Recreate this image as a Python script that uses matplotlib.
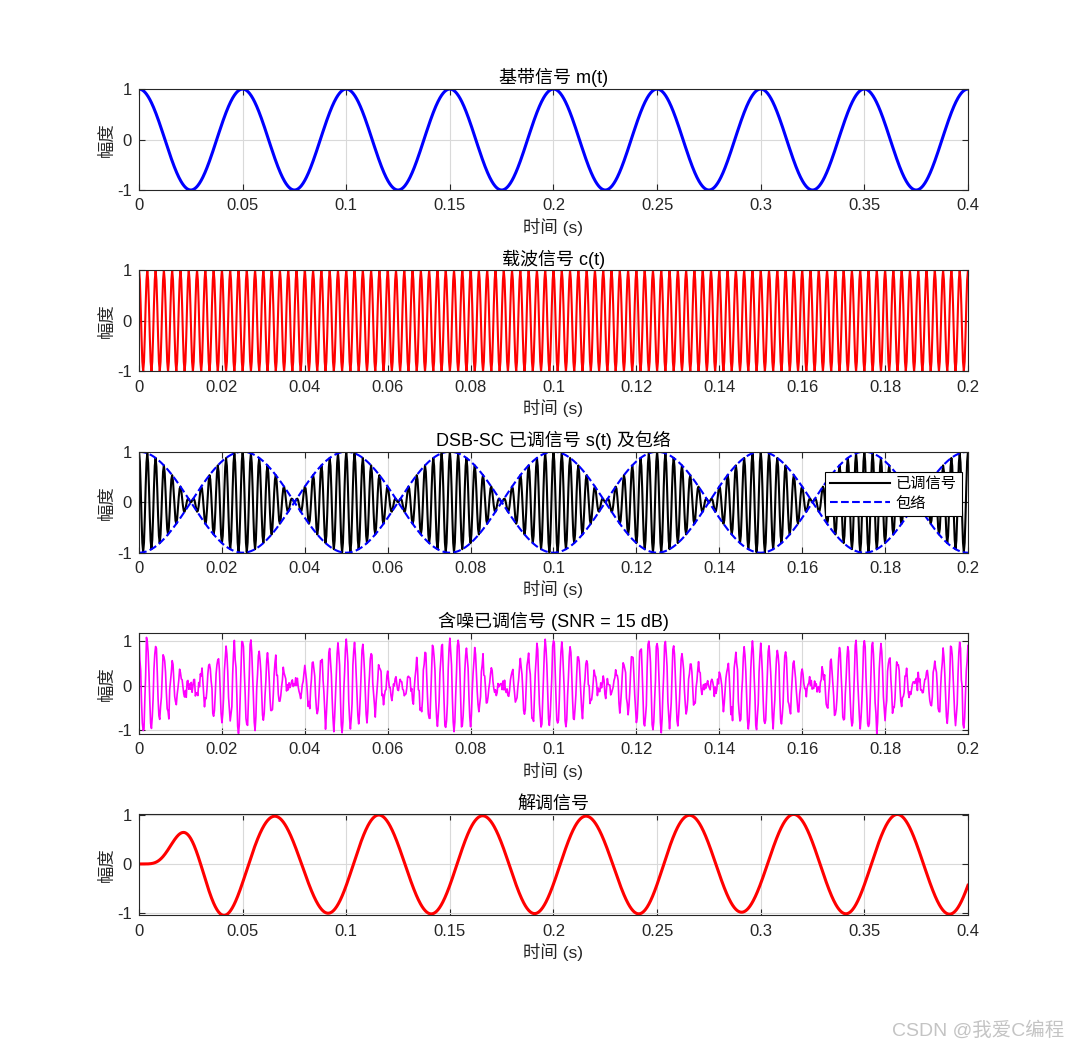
import numpy as np
import matplotlib
matplotlib.use('Agg')
import matplotlib.pyplot as plt
from matplotlib.ticker import FuncFormatter

plt.rcParams['font.family'] = ['Liberation Sans', 'Noto Sans CJK SC']
plt.rcParams['axes.unicode_minus'] = False

# 参数
fs = 5000          # 采样率 (Hz)
t_end = 0.4        # 时长 (s)
fm = 20            # 基带频率 (Hz)
fc = 500           # 载波频率 (Hz)
snr_db = 15        # 信噪比 (dB)
lp_order = 6       # Butterworth 阶数
lp_cut = 40        # 低通截止 (Hz)

titles = ['基带信号 m(t)', '载波信号 c(t)', 'DSB-SC 已调信号 s(t) 及包络',
          '含噪已调信号 (SNR = 15 dB)', '解调信号']
xlims = [0.4, 0.2, 0.2, 0.2, 0.4]
xsteps = [0.05, 0.02, 0.02, 0.02, 0.05]
legend_labels = ['已调信号', '包络']

GRAY = '#262626'


def butter_sos(order, fcut, fs):
    """双线性变换得到的 Butterworth 低通二阶节"""
    w = 2 * fs * np.tan(np.pi * fcut / fs)
    sos = []
    for k in range(order // 2):
        p = w * np.exp(1j * np.pi * (2 * k + order + 1) / (2 * order))
        z = (2 * fs + p) / (2 * fs - p)
        a = [1.0, -2 * z.real, abs(z) ** 2]
        g = sum(a) / 4
        sos.append(([g, 2 * g, g], a))
    return sos


def sos_filter(sos, x):
    y = np.array(x, dtype=float)
    for b, a in sos:
        out = np.zeros_like(y)
        x1 = x2 = y1 = y2 = 0.0
        for n, xn in enumerate(y):
            yn = b[0] * xn + b[1] * x1 + b[2] * x2 - a[1] * y1 - a[2] * y2
            x2, x1 = x1, xn
            y2, y1 = y1, yn
            out[n] = yn
        y = out
    return y


def make_signals():
    t = np.arange(0, t_end + 1 / fs, 1 / fs)
    m = np.cos(2 * np.pi * fm * t)
    c = np.cos(2 * np.pi * fc * t)
    s = m * c
    rng = np.random.default_rng(3)
    p_noise = np.mean(s ** 2) / 10 ** (snr_db / 10)
    r = s + np.sqrt(p_noise) * rng.standard_normal(len(t))
    d = sos_filter(butter_sos(lp_order, lp_cut, fs), 2 * r * c)
    return t, m, c, s, r, d


def style_axes(ax, i):
    ax.set_xlim(0, xlims[i])
    ax.set_xticks(np.round(np.arange(0, xlims[i] + 1e-9, xsteps[i]), 3))
    ax.xaxis.set_major_formatter(FuncFormatter(lambda v, p: '%g' % v))
    ax.set_yticks([-1, 0, 1])
    ax.grid(True, color='#d9d9d9', linewidth=0.8)
    ax.set_axisbelow(True)
    ax.tick_params(direction='in', length=4, colors=GRAY, labelsize=12,
                   top=True, right=True)
    ax.tick_params(axis='x', pad=6)
    ax.tick_params(axis='y', pad=5)
    for sp in ax.spines.values():
        sp.set_color(GRAY)
        sp.set_linewidth(0.8)
    ax.set_title(titles[i], fontsize=13, color='black', pad=4)
    ax.set_xlabel('时间 (s)', fontsize=12.5, color=GRAY, labelpad=3)
    ax.set_ylabel('幅度', fontsize=12.5, color=GRAY, labelpad=2)


t, m, c, s, r, d = make_signals()

fig = plt.figure(figsize=(10.71, 10.5), dpi=100)
left, width, height = 0.1298, 0.774, 0.0962
bottoms = [0.819 - i * 0.1727 for i in range(5)]
axes = [fig.add_axes([left, b, width, height]) for b in bottoms]

axes[0].plot(t, m, color='#0000ff', linewidth=2.2)
axes[0].set_ylim(-1, 1)

axes[1].plot(t, c, color='#ff0000', linewidth=1.5)
axes[1].set_ylim(-1, 1)

axes[2].plot(t, s, color='black', linewidth=1.5, label=legend_labels[0])
axes[2].plot(t, m, '--', color='#0000ff', linewidth=1.5, label=legend_labels[1])
axes[2].plot(t, -m, '--', color='#0000ff', linewidth=1.5)
axes[2].set_ylim(-1, 1)

axes[3].plot(t, r, color='#ff00ff', linewidth=1.2)
sel = t <= 0.2
axes[3].set_ylim(r[sel].min(), r[sel].max())

axes[4].plot(t, d, color='#ff0000', linewidth=2.2)
axes[4].set_ylim(d.min(), d.max())

for i, ax in enumerate(axes):
    style_axes(ax, i)

leg = axes[2].legend(loc='upper right', bbox_to_anchor=(0.993, 0.80), fontsize=11,
                     frameon=True, fancybox=False, borderaxespad=0, handlelength=3.9,
                     borderpad=0.35, labelspacing=0.35, handletextpad=0.4)
leg.get_frame().set_edgecolor('black')
leg.get_frame().set_linewidth(0.8)
leg.get_frame().set_alpha(1)

fig.text(0.994, 0.01, 'CSDN @我爱C编程', ha='right', va='bottom',
         fontsize=14, color='#c4c4c4')

fig.savefig('out.png', dpi=100)
